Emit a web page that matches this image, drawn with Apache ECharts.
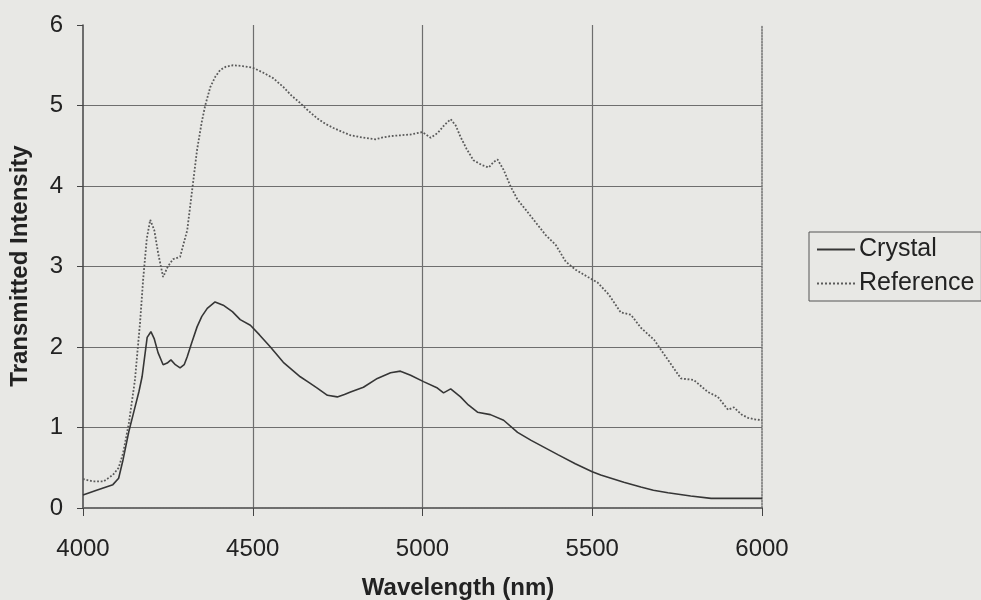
<!DOCTYPE html>
<html>
<head>
<meta charset="utf-8">
<title>Transmitted Intensity</title>
<script src="https://cdn.jsdelivr.net/npm/echarts@6/dist/echarts.min.js"></script>
<style>
  html, body { margin: 0; padding: 0; background: #e8e8e5; }
  #main { width: 981px; height: 600px; }
</style>
</head>
<body>
<div id="main"></div>
<script>
// wavelength (nm) / intensity
var crystalX = [4000, 4040, 4088, 4105, 4118, 4135, 4150, 4165, 4174, 4189, 4200, 4210, 4221, 4236, 4248, 4259,
  4272, 4286, 4298, 4307, 4320, 4336, 4350, 4366, 4389, 4413, 4440, 4463, 4493, 4520, 4552, 4590, 4615, 4640,
  4665, 4690, 4720, 4749, 4770, 4788, 4826, 4867, 4906, 4935, 4965, 5003, 5044, 5062, 5083, 5112, 5135, 5162,
  5200, 5239, 5280, 5320, 5360, 5400, 5450, 5500, 5525, 5593, 5643, 5680, 5723, 5790, 5850, 5920, 6000];
var crystalY = [0.16, 0.22, 0.29, 0.37, 0.60, 0.95, 1.20, 1.45, 1.63, 2.12, 2.19, 2.10, 1.93, 1.78, 1.80, 1.84,
  1.78, 1.74, 1.78, 1.88, 2.05, 2.25, 2.38, 2.48, 2.56, 2.52, 2.44, 2.34, 2.27, 2.15, 2.00, 1.81, 1.72, 1.63,
  1.56, 1.49, 1.40, 1.38, 1.41, 1.44, 1.50, 1.61, 1.68, 1.70, 1.65, 1.57, 1.49, 1.43, 1.48, 1.38, 1.28, 1.19,
  1.16, 1.09, 0.94, 0.84, 0.75, 0.66, 0.55, 0.45, 0.41, 0.32, 0.26, 0.22, 0.19, 0.15, 0.12, 0.12, 0.12];

var referenceX = [4000, 4030, 4060, 4088, 4105, 4118, 4135, 4153, 4168, 4177, 4188, 4198, 4210, 4222, 4236, 4250,
  4265, 4286, 4307, 4325, 4336, 4350, 4360, 4375, 4390, 4404, 4420, 4442, 4470, 4500, 4530, 4560, 4590, 4615,
  4640, 4665, 4690, 4715, 4738, 4765, 4788, 4826, 4861, 4880, 4906, 4935, 4965, 5000, 5024, 5045, 5065, 5083,
  5098, 5112, 5130, 5150, 5175, 5195, 5210, 5221, 5239, 5260, 5280, 5305, 5333, 5363, 5392, 5422, 5451, 5487,
  5516, 5549, 5584, 5614, 5643, 5682, 5723, 5761, 5799, 5841, 5870, 5900, 5917, 5940, 5959, 5980, 6000];
var referenceY = [0.36, 0.33, 0.33, 0.41, 0.50, 0.68, 1.05, 1.59, 2.30, 2.83, 3.35, 3.58, 3.45, 3.15, 2.87, 3.00,
  3.09, 3.12, 3.45, 4.07, 4.45, 4.80, 5.00, 5.23, 5.36, 5.44, 5.48, 5.50, 5.49, 5.47, 5.41, 5.34, 5.23, 5.12,
  5.03, 4.93, 4.84, 4.77, 4.72, 4.67, 4.63, 4.60, 4.58, 4.60, 4.62, 4.63, 4.64, 4.67, 4.60, 4.66, 4.76, 4.83,
  4.75, 4.61, 4.46, 4.32, 4.26, 4.23, 4.30, 4.33, 4.20, 3.99, 3.83, 3.70, 3.55, 3.39, 3.27, 3.06, 2.96, 2.87,
  2.80, 2.65, 2.43, 2.40, 2.24, 2.09, 1.84, 1.61, 1.59, 1.44, 1.38, 1.22, 1.25, 1.16, 1.12, 1.10, 1.09];

var seriesNames = ["Crystal", "Reference"];

function pairs(xs, ys) {
  return xs.map(function (x, i) { return [x, ys[i]]; });
}

var font = "Liberation Sans, Arial, sans-serif";
var myChart = echarts.init(document.getElementById("main"));

var option = {
  backgroundColor: "#e8e8e5",
  animation: false,
  grid: { left: 83, top: 25, width: 679, height: 483 },
  legend: {
    orient: "vertical",
    left: 809,
    top: 232,
    padding: [5, 7, 5, 7],
    itemWidth: 38,
    itemHeight: 12,
    itemGap: 9,
    borderColor: "#555",
    borderWidth: 1,
    itemStyle: { color: "rgba(0,0,0,0)", borderWidth: 0, opacity: 0 },
    textStyle: { fontFamily: font, fontSize: 25, color: "#222", padding: [0, 0, 0, -1] },
    data: seriesNames
  },
  xAxis: [
    {
      type: "value",
      min: 4000,
      max: 6000,
      interval: 500,
      axisLine: { onZero: false, lineStyle: { color: "#444", width: 1.5 } },
      axisTick: { show: true, length: 8, lineStyle: { color: "#444" } },
      axisLabel: {
        fontFamily: font, fontSize: 24, color: "#222", margin: 29,
        formatter: function (v) { return String(v); }
      },
      splitLine: { show: true, showMinLine: false, showMaxLine: false, lineStyle: { color: "#6e6e6e", width: 1.2 } }
    },
    {
      type: "value",
      position: "top",
      min: 4000,
      max: 6000,
      axisLine: { show: true, lineStyle: { color: "#707070", width: 1.5, type: "dotted" } },
      axisTick: { show: false },
      axisLabel: { show: false },
      splitLine: { show: false }
    }
  ],
  yAxis: [
    {
      type: "value",
      min: 0,
      max: 6,
      interval: 1,
      axisLine: { show: true, lineStyle: { color: "#444", width: 1.5 } },
      axisTick: { show: true, length: 6, lineStyle: { color: "#444" } },
      axisLabel: { fontFamily: font, fontSize: 24, color: "#222", margin: 20 },
      splitLine: { show: true, showMinLine: false, showMaxLine: false, lineStyle: { color: "#6e6e6e", width: 1.2 } }
    },
    {
      type: "value",
      position: "right",
      min: 0,
      max: 6,
      axisLine: { show: true, lineStyle: { color: "#707070", width: 1.5, type: "dotted" } },
      axisTick: { show: false },
      axisLabel: { show: false },
      splitLine: { show: false }
    }
  ],
  graphic: [
    {
      type: "text",
      x: 20,
      y: 266,
      rotation: Math.PI / 2,
      style: {
        text: "Transmitted Intensity",
        font: "bold 24px " + font,
        fill: "#222",
        textAlign: "center",
        textVerticalAlign: "middle"
      }
    },
    {
      type: "text",
      x: 458,
      y: 588,
      style: {
        text: "Wavelength (nm)",
        font: "bold 24px " + font,
        fill: "#222",
        textAlign: "center",
        textVerticalAlign: "middle"
      }
    }
  ],
  series: [
    {
      name: seriesNames[0],
      type: "line",
      symbol: "none",
      data: pairs(crystalX, crystalY),
      lineStyle: { color: "#363636", width: 1.6 },
      itemStyle: { color: "#363636" }
    },
    {
      name: seriesNames[1],
      type: "line",
      symbol: "none",
      data: pairs(referenceX, referenceY),
      lineStyle: { color: "#5a5a5a", width: 1.8, type: "dotted" },
      itemStyle: { color: "#5a5a5a" }
    }
  ]
};

myChart.setOption(option);
</script>
</body>
</html>
